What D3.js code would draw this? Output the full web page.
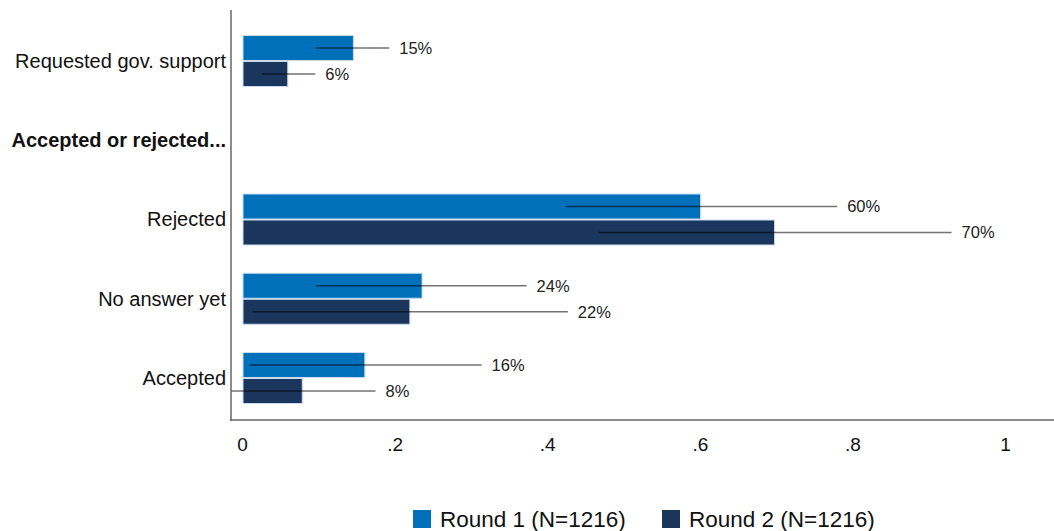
<!DOCTYPE html>
<html>
<head>
<meta charset="utf-8">
<script src="https://cdn.jsdelivr.net/npm/d3@7"></script>
<style>
  html, body { margin: 0; padding: 0; background: #fff; }
  svg { display: block; font-family: "Liberation Sans", Arial, sans-serif; }
</style>
</head>
<body>
<svg id="chart" width="1054" height="531"></svg>
<script>
const categories = ["Requested gov. support", "Accepted or rejected...", "Rejected", "No answer yet", "Accepted"];
const headerCategories = ["Accepted or rejected..."];
const round1 = [0.146, null, 0.601, 0.236, 0.161];
const round2 = [0.060, null, 0.698, 0.220, 0.079];
const round1Lo = [0.097, null, 0.425, 0.097, 0.010];
const round1Hi = [0.193, null, 0.780, 0.373, 0.314];
const round2Lo = [0.026, null, 0.467, 0.014, -0.016];
const round2Hi = [0.096, null, 0.930, 0.427, 0.175];
const seriesNames = ["Round 1 (N=1216)", "Round 2 (N=1216)"];
const seriesColors = ["#0070BA", "#1A365D"];
const xTicks = [0, 0.2, 0.4, 0.6, 0.8, 1];
const xTickLabels = ["0", ".2", ".4", ".6", ".8", "1"];

const svg = d3.select("#chart");
const x = d3.scaleLinear().domain([0, 1]).range([242, 1005]);
const y = d3.scalePoint().domain(categories).range([61, 378]);
const barH = 25;
const fmt = d3.format(".0%");

const series = [
  {name: seriesNames[0], color: seriesColors[0], vals: round1, lo: round1Lo, hi: round1Hi, off: -26},
  {name: seriesNames[1], color: seriesColors[1], vals: round2, lo: round2Lo, hi: round2Hi, off: 0}
];

// bars
series.forEach(s => {
  const data = categories.map((c, i) => ({c, v: s.vals[i], lo: s.lo[i], hi: s.hi[i]})).filter(d => d.v != null);
  svg.append("g").selectAll("rect").data(data).join("rect")
    .attr("x", x(0) + 1)
    .attr("y", d => y(d.c) + s.off + 0.5)
    .attr("width", d => x(d.v) - x(0) - 1)
    .attr("height", barH)
    .attr("fill", s.color)
    .attr("stroke", "#c8dcef")
    .attr("stroke-width", 1);
});

// CI lines and labels
series.forEach(s => {
  const data = categories.map((c, i) => ({c, v: s.vals[i], lo: s.lo[i], hi: s.hi[i]})).filter(d => d.v != null);
  const g = svg.append("g");
  g.selectAll("line").data(data).join("line")
    .attr("x1", d => Math.max(x(d.lo), 231))
    .attr("x2", d => x(d.hi))
    .attr("y1", d => y(d.c) + s.off + barH / 2 + 0.5)
    .attr("y2", d => y(d.c) + s.off + barH / 2 + 0.5)
    .attr("stroke", "#000")
    .attr("stroke-opacity", 0.55)
    .attr("stroke-width", 1.5);
  g.selectAll("text").data(data).join("text")
    .attr("x", d => x(d.hi) + 10)
    .attr("y", d => y(d.c) + s.off + barH / 2 + 0.5)
    .attr("dy", "0.35em")
    .attr("font-size", 16.5)
    .attr("fill", "#222")
    .text(d => fmt(d.v));
});

// axes lines
svg.append("line").attr("x1", 231).attr("x2", 231).attr("y1", 10).attr("y2", 421)
  .attr("stroke", "#666").attr("stroke-width", 1.5);
svg.append("line").attr("x1", 230).attr("x2", 1054).attr("y1", 420).attr("y2", 420)
  .attr("stroke", "#666").attr("stroke-width", 1.5);

// x tick labels
const xAxis = d3.axisBottom(x).tickValues(xTicks).tickSize(0).tickPadding(0)
  .tickFormat((d, i) => xTickLabels[i]);
const gx = svg.append("g").attr("transform", "translate(0,437)").call(xAxis);
gx.select(".domain").remove();
gx.selectAll("text").attr("font-size", 19).attr("fill", "#111")
  .attr("font-family", "'Liberation Sans', Arial, sans-serif");

// y labels
const yAxis = d3.axisLeft(y).tickSize(0).tickPadding(0);
const gy = svg.append("g").attr("transform", "translate(226,0)").call(yAxis);
gy.select(".domain").remove();
gy.selectAll("text")
  .attr("font-size", 20)
  .attr("fill", "#111")
  .attr("font-family", "'Liberation Sans', Arial, sans-serif")
  .attr("font-weight", d => headerCategories.includes(d) ? "bold" : "normal");

// legend
const legend = svg.append("g");
const legendX = [413, 662];
series.forEach((s, i) => {
  legend.append("rect").attr("x", legendX[i]).attr("y", 510).attr("width", 18).attr("height", 18).attr("fill", s.color);
  legend.append("text").attr("x", legendX[i] + 27).attr("y", 527)
    .attr("font-size", 22.5).attr("fill", "#111").text(s.name);
});
</script>
</body>
</html>
